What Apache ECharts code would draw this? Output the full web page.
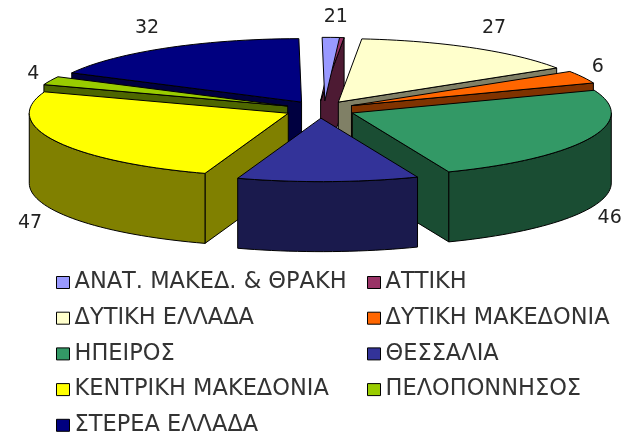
<!DOCTYPE html>
<html>
<head>
<meta charset="utf-8">
<style>
  html, body { margin: 0; padding: 0; background: #fff; }
  #chart { width: 626px; height: 437px; }
</style>
<script src="https://cdn.jsdelivr.net/npm/echarts@6/dist/echarts.min.js"></script>
</head>
<body>
<div id="chart"></div>
<script>
const regions = ['ΑΝΑΤ. ΜΑΚΕΔ. & ΘΡΑΚΗ', 'ΑΤΤΙΚΗ', 'ΔΥΤΙΚΗ ΕΛΛΑΔΑ', 'ΔΥΤΙΚΗ ΜΑΚΕΔΟΝΙΑ', 'ΗΠΕΙΡΟΣ', 'ΘΕΣΣΑΛΙΑ', 'ΚΕΝΤΡΙΚΗ ΜΑΚΕΔΟΝΙΑ', 'ΠΕΛΟΠΟΝΝΗΣΟΣ', 'ΣΤΕΡΕΑ ΕΛΛΑΔΑ'];
// ΘΕΣΣΑΛΙΑ has no printed label, 21 is estimated from the size of its slice
const values = [2, 1, 27, 6, 46, 21, 47, 4, 32];
const showLabel = [true, true, true, true, true, false, true, true, true];
const topColors = ['#9999ff', '#993366', '#ffffcc', '#ff6600', '#339966', '#333399', '#ffff00', '#99cc00', '#000080'];
const sideColors = ['#4d4d80', '#4d1a33', '#808066', '#803300', '#1a4d33', '#1a1a4d', '#808000', '#4d6600', '#000040'];
const labelOffsets = [[-1, -20], [2, -20], [21, -20], [15, -10], [20, 80], [0, 0], [-25, 82], [-17, -7], [-19, -20]];
// the two thin slices sit a little off in the original, the first one over the second
const nudgeX = [4, -2, 0, 0, 0, 0, 0, 0, 0];
const hideWall = [true, false, false, false, false, false, false, false, false];
// painted far to near
const paintOrder = [1, 0, 8, 2, 3, 7, 4, 6, 5];

const cx = 320, cy = 109.5, rx = 259, ry = 63.5, depth = 70, explode = 0.136;
const firstAngle = -0.6;
const total = values.reduce((a, b) => a + b, 0);
const rad = d => d * Math.PI / 180;

// start and end angle of each slice, clockwise from 12 o'clock
let run = 0;
const angles = values.map(v => {
    let start = firstAngle + run / total * 360;
    run += v;
    return [start, firstAngle + run / total * 360];
});

const poly = (points, fill) => ({
    type: 'polygon',
    shape: { points: points },
    style: { fill: fill, stroke: '#000', lineWidth: 1 },
    silent: true
});

function renderSlice(i, api) {
    let value = api.value(0);
    let start = angles[i][0];
    let end = start + value / total * 360;
    let mid = (start + end) / 2;
    let ax = cx + explode * rx * Math.sin(rad(mid)) + nudgeX[i];
    let ay = cy - explode * ry * Math.cos(rad(mid));
    let at = d => [ax + rx * Math.sin(rad(d)), ay - ry * Math.cos(rad(d))];
    let down = p => [p[0], p[1] + depth];
    let arc = (a, b) => {
        let pts = [];
        let n = Math.max(2, Math.ceil((b - a) / 2));
        for (let k = 0; k <= n; k++) pts.push(at(a + (b - a) * k / n));
        return pts;
    };
    let apex = [ax, ay];
    let children = [];

    // radial walls, only the ones facing the viewer
    if (!hideWall[i] && Math.sin(rad(start)) < 0) {
        children.push(poly([apex, at(start), down(at(start)), down(apex)], sideColors[i]));
    }
    if (!hideWall[i] && Math.sin(rad(end)) > 0) {
        children.push(poly([apex, at(end), down(at(end)), down(apex)], sideColors[i]));
    }
    // outer wall on the front half of the pie
    let wa = Math.max(start, 90), wb = Math.min(end, 270);
    if (wb > wa) {
        let outer = arc(wa, wb);
        children.push(poly(outer.concat(outer.map(down).reverse()), sideColors[i]));
    }
    children.push(poly([apex].concat(arc(start, end)), topColors[i]));

    if (showLabel[i]) {
        let p = at(mid);
        children.push({
            type: 'text',
            silent: true,
            style: {
                text: String(value),
                x: p[0] + labelOffsets[i][0],
                y: p[1] + labelOffsets[i][1],
                align: 'center',
                verticalAlign: 'middle',
                font: '19px "DejaVu Sans"',
                fill: '#222'
            }
        });
    }
    return { type: 'group', children: children };
}

const series = regions.map((name, i) => ({
    name: name,
    type: 'custom',
    coordinateSystem: 'none',
    z: 2 + paintOrder.indexOf(i),
    itemStyle: { color: topColors[i] },
    data: [[values[i]]],
    renderItem: (params, api) => renderSlice(i, api)
}));

const legendBase = {
    orient: 'vertical',
    top: 271,
    height: 166,
    itemWidth: 13,
    itemHeight: 12,
    itemGap: 12.7,
    icon: 'rect',
    selectedMode: false,
    padding: 0,
    itemStyle: { borderColor: '#000', borderWidth: 1 },
    textStyle: { fontFamily: 'DejaVu Sans', fontSize: 22.5, color: '#333', lineHeight: 20, padding: 0 }
};

let myChart = echarts.init(document.getElementById('chart'), null, { renderer: 'canvas' });
myChart.setOption({
    animation: false,
    backgroundColor: '#fff',
    legend: [
        Object.assign({}, legendBase, { left: 56, data: regions.filter((r, i) => i % 2 === 0) }),
        Object.assign({}, legendBase, { left: 367, data: regions.filter((r, i) => i % 2 === 1) })
    ],
    series: series
});
</script>
</body>
</html>
